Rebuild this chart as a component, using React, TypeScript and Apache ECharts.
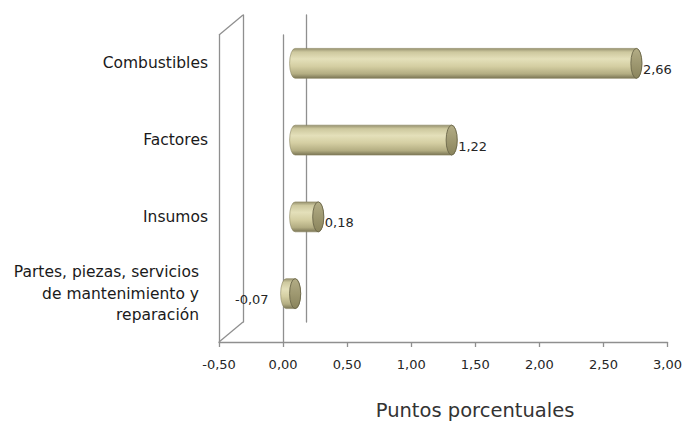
import { useEffect, useRef } from "react";
import * as echarts from "echarts";

const categories = [
  "Combustibles",
  "Factores",
  "Insumos",
  "Partes, piezas, servicios\nde mantenimiento y\nreparación",
];
const values = [2.66, 1.22, 0.18, -0.07];
const xMin = -0.5;
const xMax = 3;
const xInterval = 0.5;
const axisTitle = "Puntos porcentuales";

// layout (front plane, depth offset)
const FL = 219;
const FT = 35;
const FW = 449;
const FH = 307;
const DX = 24;
const DY = -20;

const LINE = "#8f8f8f";
const FONT = "DejaVu Sans";
const fmt = (v: number) => v.toFixed(2).replace(".", ",");

export default function App() {
  const ref = useRef<HTMLDivElement>(null);
  useEffect(() => {
    document.body.style.margin = "0";
    const chart = echarts.init(ref.current!, null, { renderer: "svg" });
    const bodyGrad = () =>
      new echarts.graphic.LinearGradient(0, 0, 0, 1, [
        { offset: 0, color: "#96916f" },
        { offset: 0.12, color: "#cdc89e" },
        { offset: 0.35, color: "#e4e0ba" },
        { offset: 0.6, color: "#d4cea2" },
        { offset: 0.85, color: "#b3ad82" },
        { offset: 1, color: "#7a7555" },
      ]);
    const capGrad = () =>
      new echarts.graphic.LinearGradient(0, 0, 0, 1, [
        { offset: 0, color: "#b3ad86" },
        { offset: 1, color: "#8a845c" },
      ]);
    const grids = [0, 0.5, 1].map((f) => ({
      left: FL + DX * f,
      top: FT + DY * f,
      width: FW,
      height: FH,
    }));
    const xAxisBase = {
      type: "value" as const,
      min: xMin,
      max: xMax,
      interval: xInterval,
      splitLine: { show: false },
    };
    const option: any = {
      animation: false,
      backgroundColor: "#ffffff",
      grid: grids,
      xAxis: [
        {
          ...xAxisBase,
          gridIndex: 0,
          axisLine: { show: true, onZero: false, lineStyle: { color: LINE, width: 1.3 } },
          axisTick: { show: true, length: 5, lineStyle: { color: LINE, width: 1.3 } },
          axisLabel: {
            formatter: (v: number) => fmt(v),
            fontSize: 13,
            fontFamily: FONT,
            color: "#262626",
            margin: 16,
            showMinLabel: true,
            showMaxLabel: true,
          },
        },
        { ...xAxisBase, gridIndex: 1, show: false },
        { ...xAxisBase, gridIndex: 2, show: false },
      ],
      yAxis: [
        // front left edge
        {
          type: "category", data: categories, inverse: true, gridIndex: 0, position: "left",
          axisLine: { show: true, onZero: false, lineStyle: { color: LINE, width: 1.3 } },
          axisTick: { show: false }, axisLabel: { show: false }, splitLine: { show: false },
        },
        // front zero line
        {
          type: "category", data: categories, inverse: true, gridIndex: 0, position: "right",
          axisLine: { show: true, onZero: true, lineStyle: { color: LINE, width: 1.3 } },
          axisTick: { show: false }, axisLabel: { show: false }, splitLine: { show: false },
        },
        // labels (mid depth)
        {
          type: "category", data: categories, inverse: true, gridIndex: 1, position: "left",
          axisLine: { show: false, onZero: false }, axisTick: { show: false }, splitLine: { show: false },
          axisLabel: {
            margin: 23,
            fontSize: 15.5,
            fontFamily: FONT,
            color: "#1a1a1a",
            lineHeight: 21.5,
            formatter: (v: string, i: number) => (i === 3 ? `{p|${v}}` : v),
            rich: {
              p: { padding: [0, 9, 0, 0], fontSize: 15.5, fontFamily: FONT, color: "#1a1a1a", lineHeight: 21.5, align: "right" },
            },
          },
        },
        // back left edge
        {
          type: "category", data: categories, inverse: true, gridIndex: 2, position: "left",
          axisLine: { show: true, onZero: false, lineStyle: { color: LINE, width: 1.3 } },
          axisTick: { show: false }, axisLabel: { show: false }, splitLine: { show: false },
        },
        // back zero line
        {
          type: "category", data: categories, inverse: true, gridIndex: 2, position: "right",
          axisLine: { show: true, onZero: true, lineStyle: { color: LINE, width: 1.3 } },
          axisTick: { show: false }, axisLabel: { show: false }, splitLine: { show: false },
        },
      ],
      series: [
        {
          type: "custom",
          xAxisIndex: 1,
          yAxisIndex: 2,
          data: values.map((v, i) => [v, i]),
          encode: { x: 0, y: 1 },
          renderItem: (_params: any, api: any) => {
            const v = api.value(0) as number;
            const ci = api.value(1) as number;
            const p0 = api.coord([0, ci]);
            const p1 = api.coord([v, ci]);
            const band = api.size([0, 1])[1];
            const ry = band * 0.195;
            const rx = ry * 0.37;
            const xl = Math.min(p0[0], p1[0]);
            const xr = Math.max(p0[0], p1[0]);
            const yc = p0[1];
            const yt = yc - ry;
            const yb = yc + ry;
            const body = `M${xl} ${yt}L${xr} ${yt}A${rx} ${ry} 0 0 1 ${xr} ${yb}L${xl} ${yb}A${rx} ${ry} 0 0 1 ${xl} ${yt}Z`;
            const cap = `M${xr - rx} ${yc}A${rx} ${ry} 0 1 1 ${xr + rx} ${yc}A${rx} ${ry} 0 1 1 ${xr - rx} ${yc}Z`;
            const pos = v >= 0;
            return {
              type: "group",
              children: [
                { type: "path", shape: { pathData: body }, style: { fill: bodyGrad(), stroke: "#8c8762", lineWidth: 0.6 } },
                { type: "path", shape: { pathData: cap }, style: { fill: capGrad(), stroke: "#6b6649", lineWidth: 0.9 } },
                {
                  type: "text",
                  x: pos ? xr + rx + 1 : xl - rx - 12,
                  y: yc + 6,
                  style: {
                    text: fmt(v),
                    fill: "#262626",
                    fontSize: 13,
                    fontFamily: FONT,
                    align: pos ? "left" : "right",
                    verticalAlign: "middle",
                  },
                },
              ],
            };
          },
        },
      ],
      graphic: [
        {
          type: "line",
          shape: { x1: FL, y1: FT, x2: FL + DX, y2: FT + DY },
          style: { stroke: LINE, lineWidth: 1.3 },
        },
        {
          type: "line",
          shape: { x1: FL, y1: FT + FH, x2: FL + DX, y2: FT + FH + DY },
          style: { stroke: LINE, lineWidth: 1.3 },
        },
        {
          type: "text",
          x: 475,
          y: 410,
          style: {
            text: axisTitle,
            fill: "#333333",
            fontSize: 19.5,
            fontFamily: FONT,
            align: "center",
            verticalAlign: "middle",
          },
        },
      ],
    };
    chart.setOption(option);
    return () => chart.dispose();
  }, []);
  return <div ref={ref} style={{ width: 685, height: 422 }} />;
}
